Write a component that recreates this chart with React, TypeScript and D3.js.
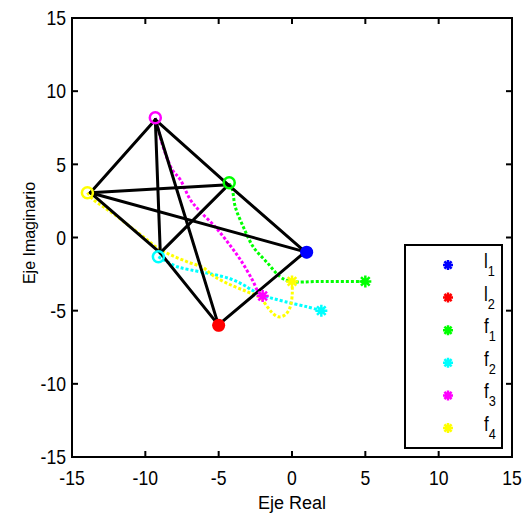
import React from "react";
import * as d3 from "d3";

const W = 522;
const H = 514;

const xTicks = [-15, -10, -5, 0, 5, 10, 15];
const yTicks = [-15, -10, -5, 0, 5, 10, 15];

// Formation vertices (black polygon): f4, f3, f1, f2, l1, l2
const formationX = [-13.75, -9.32, -4.34, -8.98, 0.9, -5.02];
const formationY = [3.06, 8.05, 3.6, -1.05, -0.98, -5.97];
const formationEdges: [number, number][] = [
  [0, 1], [0, 2], [0, 4], [0, 3], [3, 5], [1, 3], [1, 5], [1, 2], [2, 4], [2, 3], [5, 4],
];

// Trajectories of followers
const trajF1: [number, number][] = [
  [-4.27, 3.67], [-4.07, 3.26], [-3.87, 2.1], [-3.32, 0.73], [-2.64, -0.64],
  [-1.68, -1.73], [-0.8, -2.69], [-0.12, -3.0], [1.93, -3.0], [5.0, -3.0],
];
const trajF2: [number, number][] = [
  [-9.11, -1.32], [-8.64, -1.59], [-7.82, -2.0], [-6.93, -2.21], [-5.57, -2.48],
  [-4.21, -2.82], [-3.32, -3.23], [-2.64, -3.64], [-1.68, -4.05], [-0.46, -4.39],
  [1.04, -4.74], [2.0, -5.0],
];
const trajF3: [number, number][] = [
  [-9.32, 8.18], [-9.11, 7.36], [-8.77, 6.13], [-8.16, 4.63], [-7.61, 3.94],
  [-6.93, 2.58], [-6.25, 1.76], [-5.36, 0.87], [-4.41, -0.29], [-3.52, -1.52],
  [-2.71, -2.89], [-2.3, -3.71], [-2.0, -4.0],
];
const trajF4: [number, number][] = [
  [-13.95, 3.06], [-13.54, 2.58], [-12.86, 2.1], [-11.91, 1.42], [-11.02, 0.73],
  [-10.14, 0.05], [-9.18, -0.7], [-8.3, -1.18], [-7.14, -1.66], [-6.05, -2.07],
  [-5.36, -2.62], [-4.21, -3.23], [-3.05, -3.71], [-2.16, -4.12], [-1.68, -4.74],
  [-1.34, -5.15], [-0.93, -5.42], [-0.46, -5.28], [-0.12, -4.74], [0.02, -3.79], [0.0, -3.05],
];

const trajectories = [trajF1, trajF2, trajF3, trajF4];
const trajColors = ["#00ff00", "#00ffff", "#ff00ff", "#ffff00"];

// Initial positions (open circles) of followers
const startX = [-4.28, -9.11, -9.32, -13.95];
const startY = [3.74, -1.32, 8.18, 3.06];

// Final positions (stars): l1, l2, f1, f2, f3, f4
const finalX = [1, -5, 5, 2, -2, 0];
const finalY = [-1, -6, -3, -5, -4, -3];
const legendBase = ["l", "l", "f", "f", "f", "f"];
const legendSub = ["1", "2", "1", "2", "3", "4"];
const legendColors = ["#0000ff", "#ff0000", "#00ff00", "#00ffff", "#ff00ff", "#ffff00"];

const FONT = "'Liberation Sans', Arial, sans-serif";

function starPath(cx: number, cy: number, r: number) {
  const d = r * 0.72;
  return `M${cx - r},${cy}H${cx + r}M${cx},${cy - r}V${cy + r}M${cx - d},${cy - d}L${cx + d},${cy + d}M${cx - d},${cy + d}L${cx + d},${cy - d}`;
}

function NText(props: {
  x: number;
  y: number;
  anchor?: "start" | "middle" | "end";
  size?: number;
  sx?: number;
  rotate?: number;
  dy?: string;
  children: React.ReactNode;
}) {
  const { x, y, anchor = "start", size = 20, sx = 1, rotate = 0, dy, children } = props;
  return (
    <g transform={`translate(${x},${y}) rotate(${rotate}) scale(${sx},1)`}>
      <text textAnchor={anchor} fontFamily={FONT} fontSize={size} fill="#000" dy={dy}>
        {children}
      </text>
    </g>
  );
}

export default function App() {
  const x = d3.scaleLinear().domain([-15, 15]).range([72, 512]);
  const y = d3.scaleLinear().domain([-15, 15]).range([457, 18]);
  const line = d3
    .line<[number, number]>()
    .x((d) => x(d[0]))
    .y((d) => y(d[1]))
    .curve(d3.curveCatmullRom);

  const legX = 405, legY = 245, legW = 97, legH = 203;
  const legRowY = (i: number) => legY + 20 + i * 32.6;

  return (
    <div style={{ position: "absolute", left: 0, top: 0 }}>
      <svg width={W} height={H} style={{ display: "block", background: "#fff" }}>
        <rect width={W} height={H} fill="#fff" />
        {/* trajectories */}
        {trajectories.map((t, i) => (
          <path
            key={"t" + i}
            d={line(t) || ""}
            fill="none"
            stroke={trajColors[i]}
            strokeWidth={3}
            strokeDasharray="3 2"
          />
        ))}
        {/* formation */}
        {formationEdges.map(([a, b], i) => (
          <line
            key={"e" + i}
            x1={x(formationX[a])}
            y1={y(formationY[a])}
            x2={x(formationX[b])}
            y2={y(formationY[b])}
            stroke="#000"
            strokeWidth={3}
            strokeLinecap="round"
          />
        ))}
        {/* start circles */}
        {startX.map((sx, i) => (
          <circle
            key={"s" + i}
            cx={x(sx)}
            cy={y(startY[i])}
            r={5.5}
            fill="none"
            stroke={trajColors[i]}
            strokeWidth={2.5}
          />
        ))}
        {/* leaders filled circles */}
        {[0, 1].map((i) => (
          <circle key={"lc" + i} cx={x(finalX[i])} cy={y(finalY[i])} r={6.5} fill={legendColors[i]} />
        ))}
        {/* final stars */}
        {finalX.map((fx, i) => (
          <path
            key={"f" + i}
            d={starPath(x(fx), y(finalY[i]), 6)}
            stroke={legendColors[i]}
            strokeWidth={2.5}
            fill="none"
          />
        ))}
        {/* axes box */}
        <rect x={72} y={18} width={440} height={439} fill="none" stroke="#000" strokeWidth={2} />
        {xTicks.map((t) => (
          <g key={"xt" + t}>
            <line x1={x(t)} x2={x(t)} y1={457} y2={451} stroke="#000" strokeWidth={2} />
            <line x1={x(t)} x2={x(t)} y1={18} y2={24} stroke="#000" strokeWidth={2} />
            <NText x={x(t)} y={485} anchor="middle" size={20} sx={0.88}>
              {t}
            </NText>
          </g>
        ))}
        {yTicks.map((t) => (
          <g key={"yt" + t}>
            <line x1={72} x2={78} y1={y(t)} y2={y(t)} stroke="#000" strokeWidth={2} />
            <line x1={512} x2={506} y1={y(t)} y2={y(t)} stroke="#000" strokeWidth={2} />
            <NText x={66} y={y(t)} anchor="end" size={20} sx={0.88} dy="0.36em">
              {t}
            </NText>
          </g>
        ))}
        <NText x={292} y={509} anchor="middle" size={18}>
          Eje Real
        </NText>
        <NText x={35} y={233} anchor="middle" size={17} sx={0.94} rotate={-90}>
          Eje Imaginario
        </NText>
        {/* legend */}
        <rect x={legX} y={legY} width={legW} height={legH} fill="#fff" stroke="#000" strokeWidth={2} />
        {legendBase.map((b, i) => (
          <g key={"lg" + i}>
            <path d={starPath(448, legRowY(i), 5)} stroke={legendColors[i]} strokeWidth={2.5} fill="none" />
            <g transform={`translate(484,${legRowY(i) + 3}) scale(0.85,1)`}>
              <text fontFamily={FONT} fontSize={20} fill="#000">
                {b}
                <tspan dy={8} fontSize={15}>
                  {legendSub[i]}
                </tspan>
              </text>
            </g>
          </g>
        ))}
      </svg>
    </div>
  );
}
